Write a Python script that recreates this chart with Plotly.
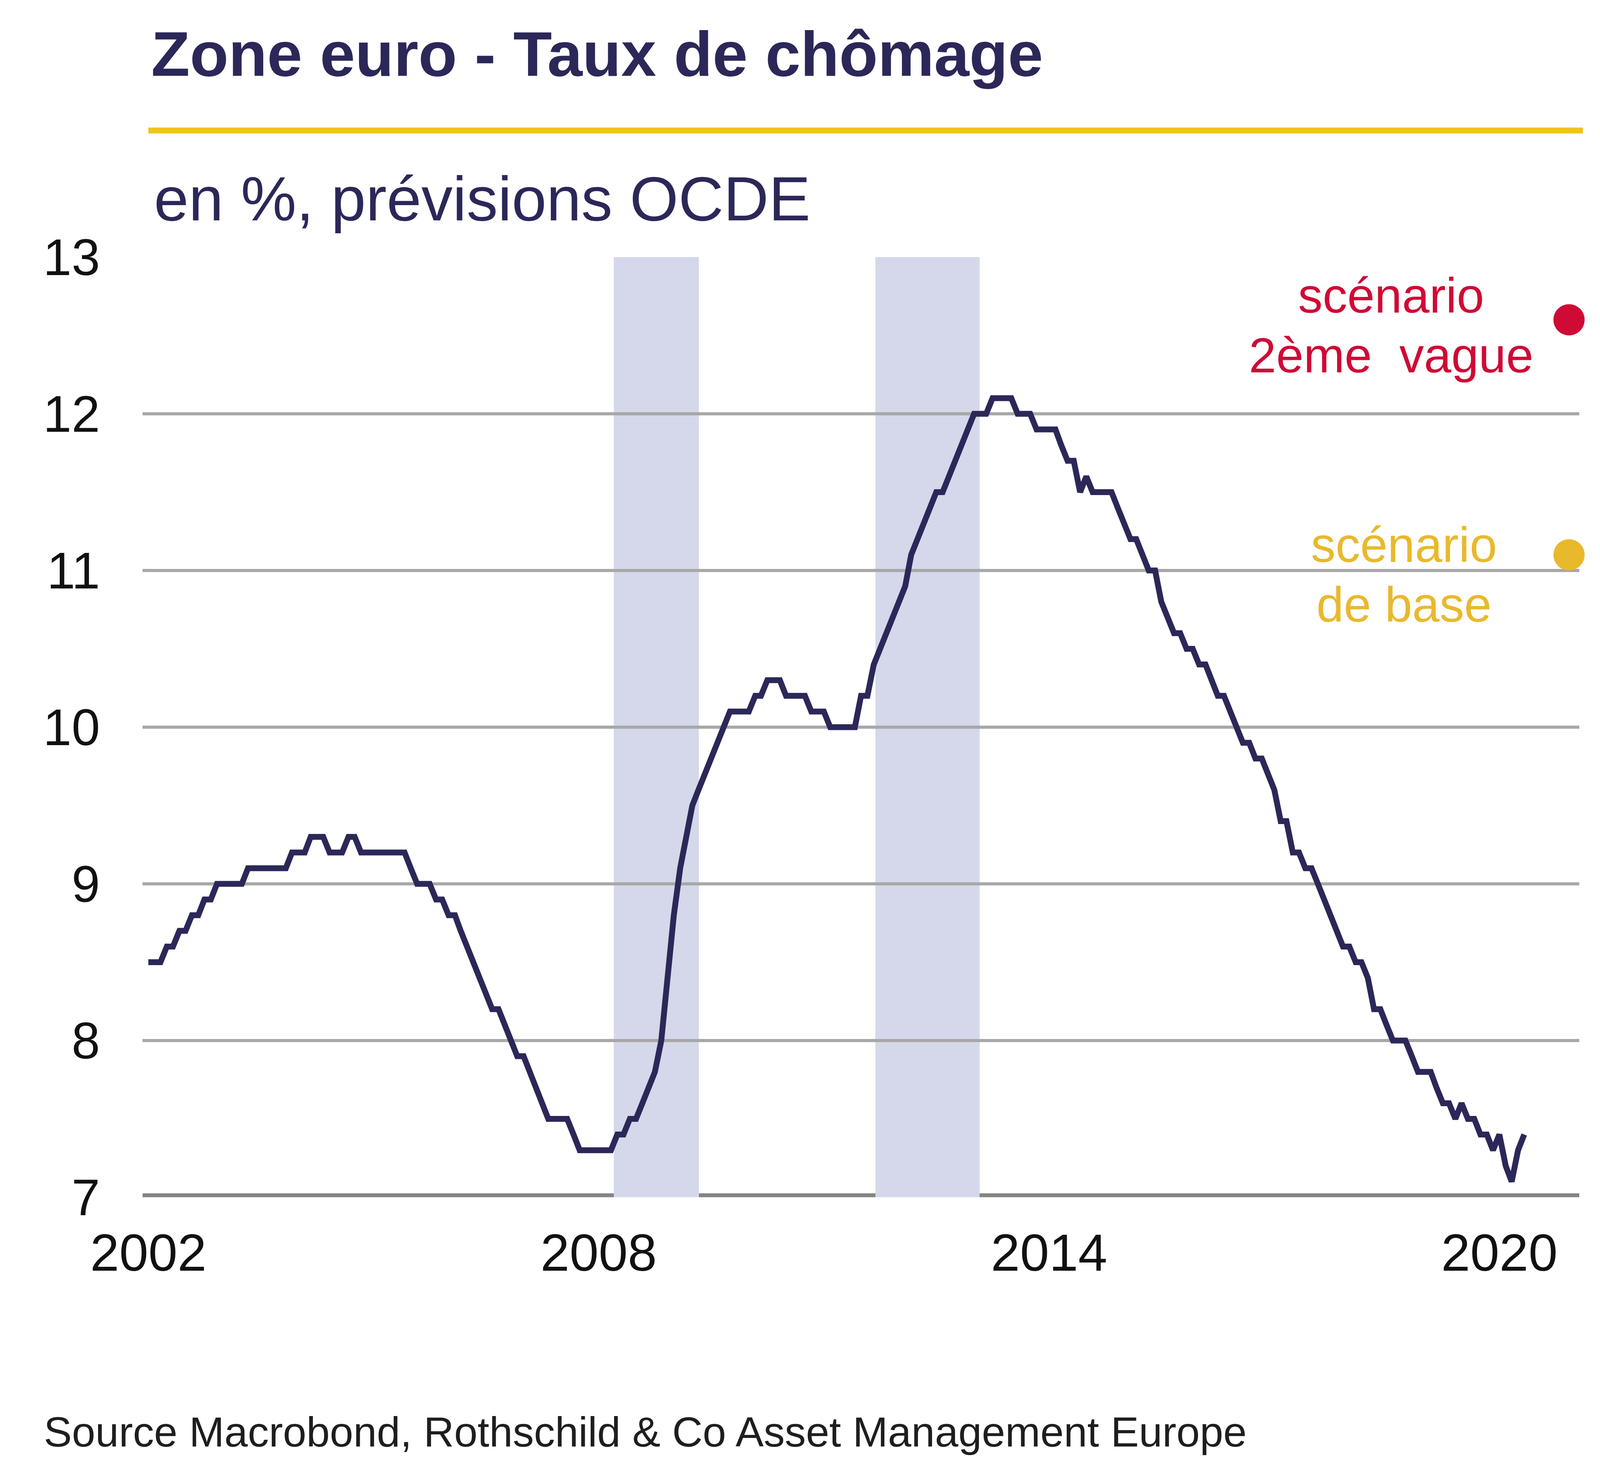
import pandas as pd
import plotly.graph_objects as go

# Euro area unemployment rate, monthly, from January 2002 (in %)
unemployment = [
    8.5, 8.5, 8.5, 8.6, 8.6, 8.7, 8.7, 8.8, 8.8, 8.9, 8.9, 9.0,  # 2002
    9.0, 9.0, 9.0, 9.0, 9.1, 9.1, 9.1, 9.1, 9.1, 9.1, 9.1, 9.2,  # 2003
    9.2, 9.2, 9.3, 9.3, 9.3, 9.2, 9.2, 9.2, 9.3, 9.3, 9.2, 9.2,  # 2004
    9.2, 9.2, 9.2, 9.2, 9.2, 9.2, 9.1, 9.0, 9.0, 9.0, 8.9, 8.9,  # 2005
    8.8, 8.8, 8.7, 8.6, 8.5, 8.4, 8.3, 8.2, 8.2, 8.1, 8.0, 7.9,  # 2006
    7.9, 7.8, 7.7, 7.6, 7.5, 7.5, 7.5, 7.5, 7.4, 7.3, 7.3, 7.3,  # 2007
    7.3, 7.3, 7.3, 7.4, 7.4, 7.5, 7.5, 7.6, 7.7, 7.8, 8.0, 8.4,  # 2008
    8.8, 9.1, 9.3, 9.5, 9.6, 9.7, 9.8, 9.9, 10.0, 10.1, 10.1, 10.1,  # 2009
    10.1, 10.2, 10.2, 10.3, 10.3, 10.3, 10.2, 10.2, 10.2, 10.2, 10.1, 10.1,  # 2010
    10.1, 10.0, 10.0, 10.0, 10.0, 10.0, 10.2, 10.2, 10.4, 10.5, 10.6, 10.7,  # 2011
    10.8, 10.9, 11.1, 11.2, 11.3, 11.4, 11.5, 11.5, 11.6, 11.7, 11.8, 11.9,  # 2012
    12.0, 12.0, 12.0, 12.1, 12.1, 12.1, 12.1, 12.0, 12.0, 12.0, 11.9, 11.9,  # 2013
    11.9, 11.9, 11.8, 11.7, 11.7, 11.5, 11.6, 11.5, 11.5, 11.5, 11.5, 11.4,  # 2014
    11.3, 11.2, 11.2, 11.1, 11.0, 11.0, 10.8, 10.7, 10.6, 10.6, 10.5, 10.5,  # 2015
    10.4, 10.4, 10.3, 10.2, 10.2, 10.1, 10.0, 9.9, 9.9, 9.8, 9.8, 9.7,  # 2016
    9.6, 9.4, 9.4, 9.2, 9.2, 9.1, 9.1, 9.0, 8.9, 8.8, 8.7, 8.6,  # 2017
    8.6, 8.5, 8.5, 8.4, 8.2, 8.2, 8.1, 8.0, 8.0, 8.0, 7.9, 7.8,  # 2018
    7.8, 7.8, 7.7, 7.6, 7.6, 7.5, 7.6, 7.5, 7.5, 7.4, 7.4, 7.3,  # 2019
    7.4, 7.2, 7.1, 7.3, 7.4,  # 2020
]
months = pd.date_range("2002-01-01", periods=len(unemployment), freq="MS")

# OECD forecasts for end of 2020
scenario_dates = ["2020-12-05", "2020-12-05"]
scenario_values = [12.6, 11.1]
scenario_colors = ["#cf0a35", "#e9b92c"]

# shaded recession periods
recession_starts = ["2008-03-15", "2011-09-09"]
recession_ends = ["2009-05-03", "2013-01-28"]

year_ticks = ["2002-01-01", "2008-01-01", "2014-01-01", "2020-01-01"]
year_labels = ["2002", "2008", "2014", "2020"]
y_ticks = [7, 8, 9, 10, 11, 12, 13]

FONT = "Liberation Sans, Arial, sans-serif"
NAVY = "#2b2859"

fig = go.Figure()

fig.add_trace(
    go.Scatter(
        x=months,
        y=unemployment,
        mode="lines",
        line=dict(color=NAVY, width=15),
        showlegend=False,
    )
)

fig.add_trace(
    go.Scatter(
        x=scenario_dates,
        y=scenario_values,
        mode="markers",
        marker=dict(color=scenario_colors, size=80),
        cliponaxis=False,
        showlegend=False,
    )
)

for start, end in zip(recession_starts, recession_ends):
    fig.add_shape(
        type="rect", xref="x", yref="y",
        x0=start, x1=end, y0=7, y1=13,
        fillcolor="#d4d8ea", line_width=0, layer="below",
    )

# x axis base line
fig.add_shape(
    type="line", xref="paper", yref="y",
    x0=0, x1=1, y0=7, y1=7,
    line=dict(color="#858585", width=20), layer="below",
)

# yellow rule under the title
fig.add_shape(
    type="line", xref="paper", yref="paper",
    x0=0.004, x1=1.0025, y0=1.1347, y1=1.1347,
    line=dict(color="#f0c419", width=15),
)

fig.add_annotation(
    text="<b>Zone euro - Taux de chômage</b>",
    xref="paper", yref="paper", x=0.0054, y=1.2165,
    xanchor="left", yanchor="middle", showarrow=False,
    font=dict(family=FONT, size=162, color=NAVY),
)
fig.add_annotation(
    text="en %, prévisions OCDE",
    xref="paper", yref="paper", x=0.0073, y=1.0623,
    xanchor="left", yanchor="middle", showarrow=False,
    font=dict(family=FONT, size=160, color=NAVY),
)
fig.add_annotation(
    text="Source Macrobond, Rothschild & Co Asset Management Europe",
    xref="paper", yref="paper", x=-0.0693, y=-0.2494,
    xanchor="left", yanchor="middle", showarrow=False,
    font=dict(family=FONT, size=108, color="#1e1e1e"),
)

scenario_lines = [
    ("scénario", 0.8690, 0.9589, scenario_colors[0]),
    ("2ème  vague", 0.8690, 0.8953, scenario_colors[0]),
    ("scénario", 0.8779, 0.6937, scenario_colors[1]),
    ("de base", 0.8779, 0.6301, scenario_colors[1]),
]
for text, x, y, color in scenario_lines:
    fig.add_annotation(
        text=text, xref="paper", yref="paper", x=x, y=y,
        xanchor="center", yanchor="middle", showarrow=False,
        font=dict(family=FONT, size=126, color=color),
    )

fig.update_layout(
    width=4224,
    height=3780,
    margin=dict(l=357, r=189, t=650, b=724),
    paper_bgcolor="white",
    plot_bgcolor="white",
    font=dict(family=FONT, color="#111111"),
    xaxis=dict(
        range=["2001-12-04", "2021-01-24"],
        tickvals=year_ticks,
        ticktext=year_labels,
        showgrid=False,
        zeroline=False,
        showline=False,
        ticks="",
        tickfont=dict(size=134, color="#111111"),
        ticklabelstandoff=53,
    ),
    yaxis=dict(
        range=[7, 13],
        tickvals=y_ticks,
        showgrid=True,
        gridcolor="#a8a8a8",
        gridwidth=8,
        zeroline=False,
        showline=False,
        ticks="",
        tickfont=dict(size=131, color="#111111"),
        ticklabelstandoff=108,
    ),
)

fig.write_html("out.html")
